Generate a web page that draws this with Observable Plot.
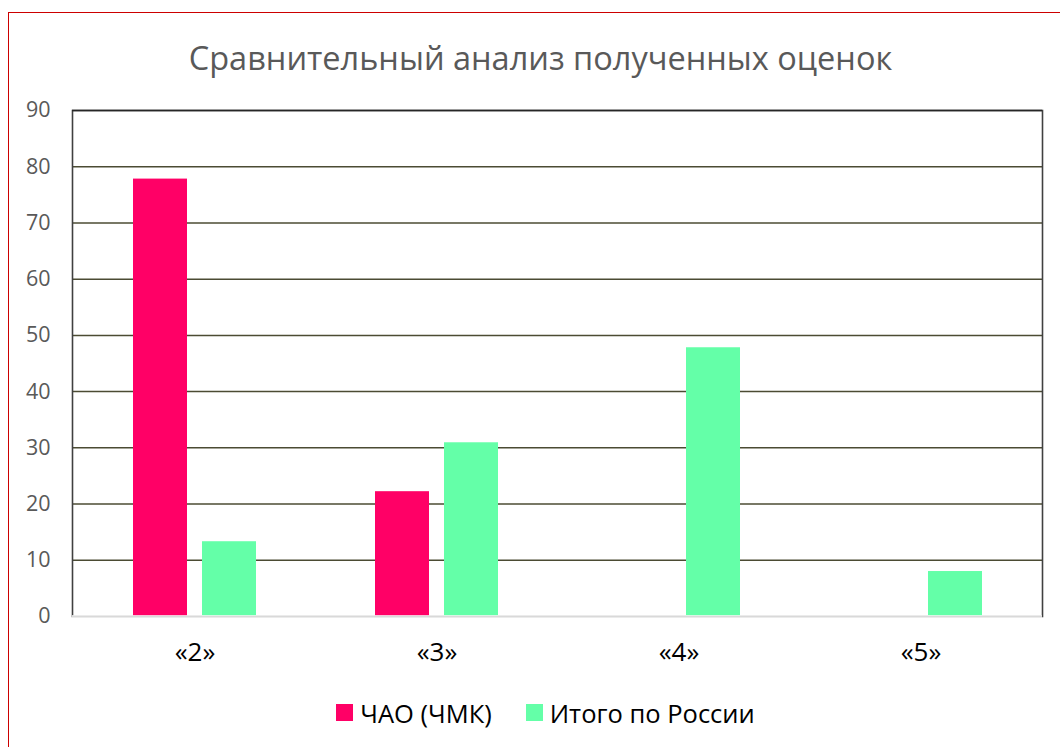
<!DOCTYPE html>
<html>
<head>
<meta charset="utf-8">
<script src="https://cdn.jsdelivr.net/npm/d3@7"></script>
<script src="https://cdn.jsdelivr.net/npm/@observablehq/plot@0.6"></script>
<style>
  html, body { margin: 0; padding: 0; background: #fff; overflow: hidden; width: 1060px; height: 747px; }
  #frame { position: absolute; left: 8px; top: 12px; width: 1100px; height: 800px; border: 1.5px solid #cc0000; box-sizing: border-box; }
  #title { position: absolute; left: 0; top: 35px; width: 1081px; text-align: center; font-family: "Open Sans", sans-serif; font-size: 32.5px; color: #595959; }
  #chart { position: absolute; left: 0; top: 90px; }
  #legend { position: absolute; left: 0; top: 694px; width: 1091px; text-align: center; font-family: "Open Sans", sans-serif; font-size: 25.5px; color: #000; white-space: nowrap; }
  .item { display: inline-flex; align-items: center; margin: 0 17px; }
  .sw { display: inline-block; width: 17px; height: 17px; margin-right: 7px; }
</style>
</head>
<body>
<div id="frame"></div>
<div id="title">Сравнительный анализ полученных оценок</div>
<div id="chart"></div>
<div id="legend"></div>
<script>
const categories = ["«2»", "«3»", "«4»", "«5»"];
const seriesNames = ["ЧАО (ЧМК)", "Итого по России"];
const chmkValues = [77.8, 22.2, null, null];
const russiaValues = [13.3, 30.9, 47.8, 8.0];
const seriesColors = ["#ff0066", "#64ffa8"];
const yTicks = [0, 10, 20, 30, 40, 50, 60, 70, 80, 90];

const chmk = categories.map((c, i) => ({cat: c, value: chmkValues[i]})).filter(d => d.value != null);
const russia = categories.map((c, i) => ({cat: c, value: russiaValues[i]}));

const plot = Plot.plot({
  width: 1060,
  height: 590,
  marginLeft: 72,
  marginRight: 18,
  marginTop: 20,
  marginBottom: 64,
  style: {fontFamily: "Open Sans, sans-serif", background: "transparent", overflow: "visible"},
  x: {domain: categories, paddingInner: 0.493, paddingOuter: 0.2465, label: null},
  y: {domain: [0, 90], label: null},
  marks: [
    Plot.ruleY(yTicks.filter(t => t > 0 && t < 90), {stroke: "#4b4b33", strokeWidth: 1.5}),
    Plot.frame({stroke: "#404040", strokeWidth: 1.6}),
    Plot.ruleY([90], {stroke: "#262626", strokeWidth: 1.6}),
    Plot.barY(chmk, {x: "cat", y: "value", fill: seriesColors[0], insetRight: 69}),
    Plot.barY(russia, {x: "cat", y: "value", fill: seriesColors[1], insetLeft: 69}),
    Plot.ruleY([0], {stroke: "#ffffff", strokeWidth: 2.5}),
    Plot.ruleY([0], {stroke: "#d9d9d9", strokeWidth: 1.3}),
    Plot.axisY({ticks: yTicks, tickSize: 0, tickPadding: 22, fontSize: 21.5, color: "#595959", label: null}),
    Plot.axisX({tickSize: 0, tickPadding: 26, fontSize: 26, color: "#000", label: null})
  ]
});
document.getElementById("chart").appendChild(plot);

const legend = document.getElementById("legend");
seriesNames.forEach((name, i) => {
  const item = document.createElement("span");
  item.className = "item";
  item.innerHTML = `<span class="sw" style="background:${seriesColors[i]}"></span>${name}`;
  legend.appendChild(item);
});
</script>
</body>
</html>
